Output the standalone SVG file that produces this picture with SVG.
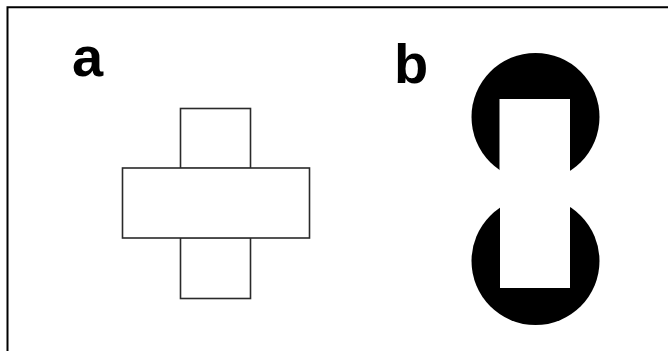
<svg xmlns="http://www.w3.org/2000/svg" width="668" height="351" viewBox="0 0 668 351">
<style>
.lbl{font-family:"Liberation Sans",Arial,sans-serif;font-weight:bold;font-size:56px;fill:#000}
.box{fill:#fff;stroke:#2a2a2a;stroke-width:1.6}
.frame{stroke:#000;stroke-width:2;fill:none}
.disc{fill:#000}
.cut{fill:#fff}
</style>
<rect width="668" height="351" fill="#fff"/>
<path class="frame" d="M7.5,351 V7.3 H668"/>
<text class="lbl" x="72" y="76">a</text>
<text class="lbl" x="394" y="82.5">b</text>
<g id="panel-a">
<rect id="a-top" class="box" x="180.5" y="108.5" width="70" height="60"/>
<rect id="a-bottom" class="box" x="180.5" y="237.5" width="70" height="61"/>
<rect id="a-middle" class="box" x="122.5" y="168" width="187" height="70"/>
</g>
<g id="panel-b">
<g id="b-top">
<circle class="disc" cx="535.5" cy="117" r="64"/>
<rect class="cut" x="499.5" y="99" width="70.5" height="90"/>
</g>
<g id="b-bottom">
<circle class="disc" cx="535.5" cy="261" r="64"/>
<rect class="cut" x="500" y="189" width="70" height="99"/>
</g>
</g>
</svg>
